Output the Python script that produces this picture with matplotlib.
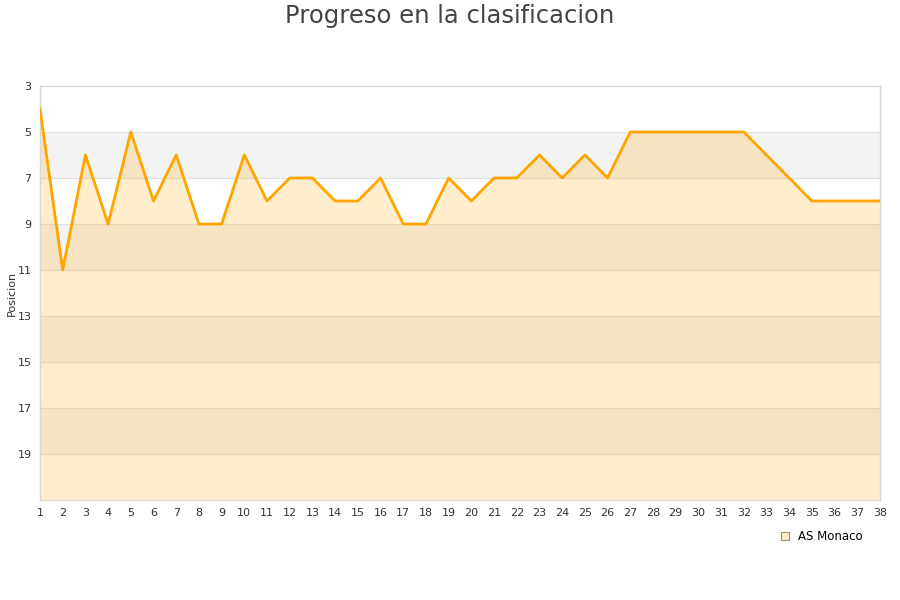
import matplotlib.pyplot as plt
from matplotlib.patches import Patch

# --------------------DATA-------------------- #
rounds = list(range(1, 39))
position = [4, 11, 6, 9, 5, 8, 6, 9, 9, 6,
            8, 7, 7, 8, 8, 7, 9, 9, 7, 8,
            7, 7, 6, 7, 6, 7, 5, 5, 5, 5,
            5, 5, 6, 7, 8, 8, 8, 8]
team = "AS Monaco"
yTicks = [3, 5, 7, 9, 11, 13, 15, 17, 19]

# --------------------PLOT-------------------- #
fig = plt.figure(figsize=(9, 6), dpi=100)
ax = fig.add_axes([40 / 900, 1 - 500 / 600, 840 / 900, 414 / 600])

# alternating bands
for lo in [5, 9, 13, 17]:
    ax.axhspan(lo, lo + 2, color="#f3f3f3", zorder=0, lw=0)
for t in yTicks[1:]:
    ax.axhline(t, color="#e0e0e0", lw=0.8, zorder=1)

ax.fill_between(rounds, position, 21, color="#ffa500", alpha=0.2, lw=0, zorder=2)
ax.plot(rounds, position, color="#ffa500", lw=2, zorder=3)

ax.set_xlim(1, 38)
ax.set_ylim(21, 3)
ax.set_xticks(rounds)
ax.set_yticks(yTicks)
ax.tick_params(length=0, labelsize=8, colors="#333333", pad=6)

for s in ax.spines.values():
    s.set_color("#d8d8d8")
    s.set_linewidth(1)

ax.set_ylabel("Posicion", fontsize=8, color="#333333")
ax.yaxis.set_label_coords(-0.028, 0.5)

fig.suptitle("Progreso en la clasificacion", fontsize=17.5, color="#444444", y=0.993)

handle = Patch(facecolor="#ffecc8", edgecolor="#a09070", lw=0.8)
fig.legend([handle], [team], loc="center", bbox_to_anchor=(0.913, 0.106),
           frameon=False, fontsize=8.5, handlelength=0.7, handleheight=0.7,
           handletextpad=0.8)

fig.savefig("out.png", dpi=100)
